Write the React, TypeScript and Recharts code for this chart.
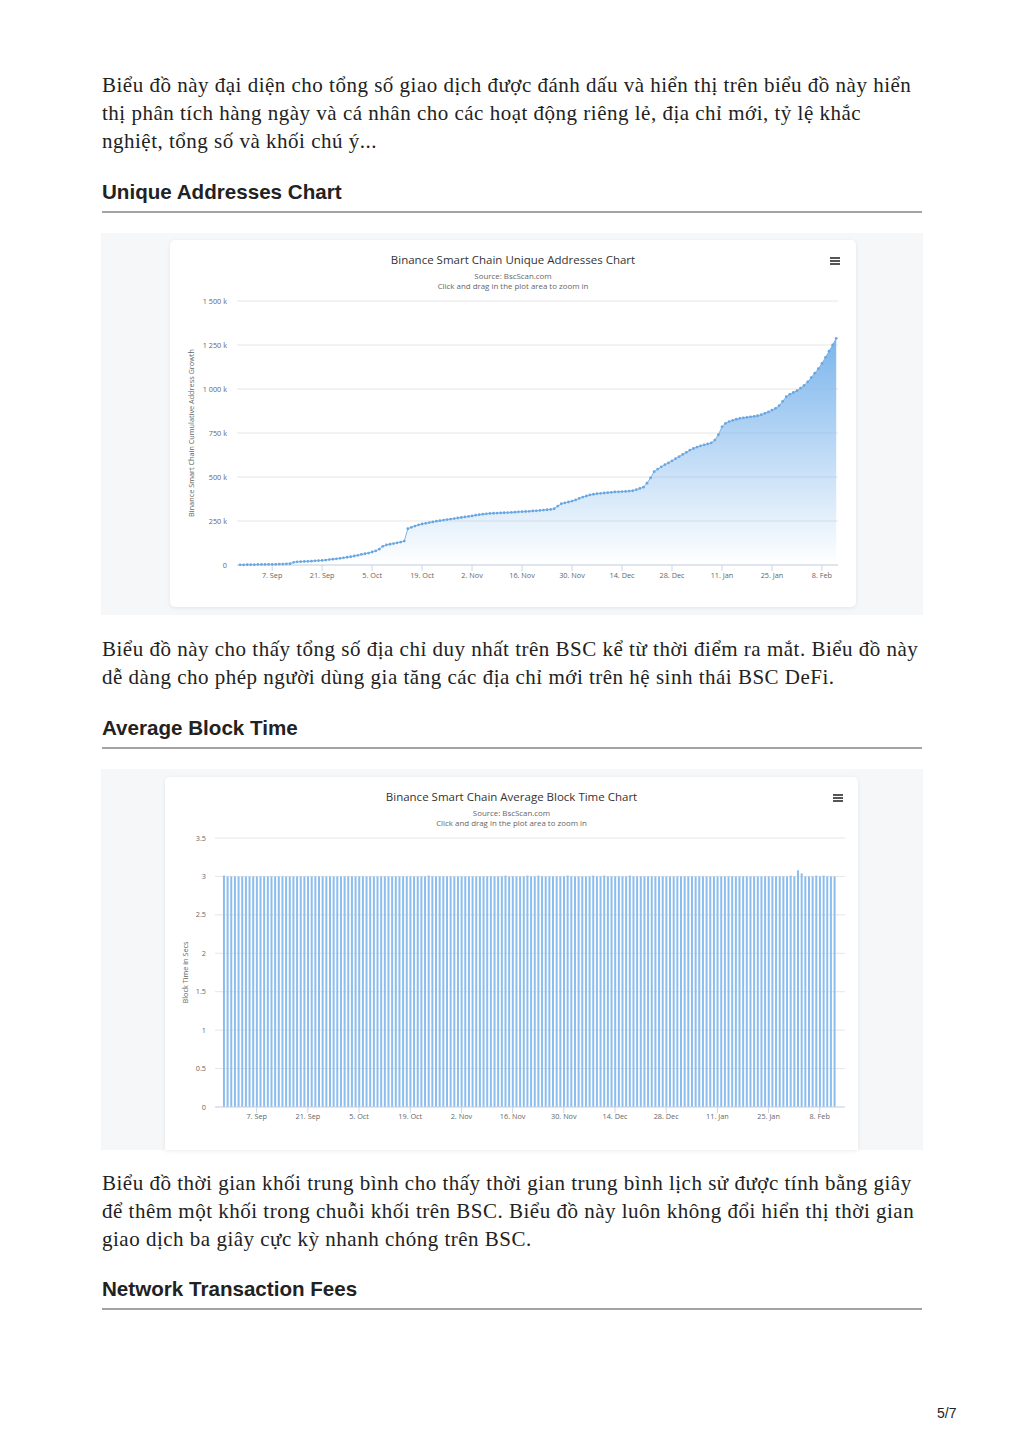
import React from 'react';
import { AreaChart, Area, BarChart, Bar, XAxis, YAxis, CartesianGrid } from 'recharts';

// day 0 = 29 Aug 2020, one value per day up to 12 Feb
const addressK = [
  1, 1, 2, 2, 2, 3, 3, 3, 4, 4, 4, 5, 5, 6, 7,
  15, 18, 19, 20, 21, 22, 24, 25, 26, 28, 31, 33, 35, 38, 41,
  44, 47, 51, 55, 60, 64, 68, 74, 80, 90, 106, 114, 118, 122, 126, 130, 136, 206,
  214, 221, 228, 233, 237, 241, 245, 249, 252, 255, 258, 261,
  264, 267, 270, 273, 276, 279, 283, 286, 289, 291, 293, 294, 295, 296, 297, 298,
  299, 300, 302, 303, 304, 305, 307, 308, 310, 312, 314, 316,
  320, 335, 348, 353, 358, 363, 370, 378, 386, 392, 398, 402,
  405, 407, 409, 411, 413, 415, 416, 417, 418, 420, 422, 428, 435, 442,
  465, 495, 530, 545, 558, 570, 580, 592, 604, 616, 628, 640, 653,
  662, 670, 677, 683, 688, 694, 710, 740, 785, 805, 815, 822, 828,
  833, 836, 839, 842, 845, 848, 854, 862, 870, 880, 890,
  905, 930, 956, 970, 980, 990, 1005, 1020, 1040, 1065, 1090, 1115, 1145, 1180, 1215, 1250, 1288,
];

const blockTimes = [
  3.01, 3, 3, 3, 3, 3, 3, 3, 3, 3, 3, 3,
  3, 3, 3, 3, 3, 3, 3, 3, 3, 3, 3, 3,
  3, 3, 3, 3, 3, 3, 3, 3, 3, 3, 3, 3,
  3, 3, 3, 3, 3, 3, 3, 3, 3, 3, 3, 3,
  3, 3, 3, 3, 3, 3, 3, 3, 3.01, 3, 3, 3,
  3, 3, 3, 3, 3, 3, 3, 3, 3, 3, 3, 3,
  3, 3, 3, 3, 3, 3.01, 3, 3, 3, 3, 3, 3.01,
  3, 3, 3.01, 3, 3, 3, 3, 3, 3, 3, 3.01, 3,
  3, 3, 3, 3, 3, 3.01, 3, 3, 3.01, 3, 3, 3,
  3, 3, 3, 3.01, 3, 3, 3, 3, 3, 3, 3, 3,
  3, 3, 3, 3, 3, 3, 3, 3, 3, 3, 3, 3,
  3, 3, 3, 3, 3, 3, 3, 3, 3, 3, 3, 3,
  3, 3, 3, 3, 3, 3, 3, 3, 3, 3, 3, 3.01,
  3, 3.08, 3.04, 3, 3, 3, 3.01, 3, 3.01, 3, 3, 3,
];

const tickDays = [9, 23, 37, 51, 65, 79, 93, 107, 121, 135, 149, 163];
const tickLabels = ['7. Sep', '21. Sep', '5. Oct', '19. Oct', '2. Nov', '16. Nov', '30. Nov', '14. Dec', '28. Dec', '11. Jan', '25. Jan', '8. Feb'];
const addressTicks = [0, 250, 500, 750, 1000, 1250, 1500];
const blockTicks = [0, 0.5, 1, 1.5, 2, 2.5, 3, 3.5];

const addressData = addressK.map((v, i) => ({ day: i, value: v }));
const blockData = blockTimes.map((v, i) => ({ day: i, value: v }));

const serif = '"Liberation Serif", "Times New Roman", serif';
const sans = '"Liberation Sans", Arial, sans-serif';
const chartFont = '"Open Sans", "DejaVu Sans", sans-serif';
const blue = '#7cb5ec';

const fmtK = (v: number) => {
  if (v === 0) return '0';
  const th = Math.floor(v / 1000);
  return th > 0 ? `${th} ${String(v % 1000).padStart(3, '0')} k` : `${v} k`;
};
const fmtDay = (d: number) => tickLabels[tickDays.indexOf(d)] ?? '';

const tickStyle = { fontSize: 7.3, fill: '#666', fontFamily: chartFont };

function Para({ top, lines }: { top: number; lines: string[] }) {
  return <div style={{ position: 'absolute', left: 102, top, fontFamily: serif, fontSize: 21, letterSpacing: 0.5, lineHeight: '28px', color: '#222', whiteSpace: 'nowrap' }}>
      {lines.map((l, i) => <div key={i}>{l}</div>)}
    </div>;
}

function Heading({ top, text }: { top: number; text: string }) {
  return <>
      <div style={{ position: 'absolute', left: 102, top, fontFamily: sans, fontWeight: 'bold', fontSize: 20.6, lineHeight: '24px', color: '#222' }}>{text}</div>
      <div style={{ position: 'absolute', left: 102, top: top + 31, width: 820, height: 2, background: '#a3a3a3' }} />
    </>;
}

function Menu({ left, top }: { left: number; top: number }) {
  return <div style={{ position: 'absolute', left, top }}>
      {[0, 3, 6].map(o => <div key={o} style={{ position: 'absolute', top: o, width: 10, height: 1.6, background: '#555' }} />)}
    </div>;
}

function CardTitle({ title, subTop }: { title: string; subTop: number }) {
  return <>
      <div style={{ position: 'absolute', top: 13, width: '100%', textAlign: 'center', fontFamily: chartFont, fontSize: 11.5, lineHeight: '14px', color: '#333' }}>{title}</div>
      <div style={{ position: 'absolute', top: subTop, width: '100%', textAlign: 'center', fontFamily: chartFont, fontSize: 7.9, lineHeight: '9.5px', color: '#666' }}>
        <div>Source: BscScan.com</div>
        <div>Click and drag in the plot area to zoom in</div>
      </div>
    </>;
}

export default function App() {
  return <div style={{ position: 'absolute', left: 0, top: 0, width: 1024, height: 1449, background: '#fff' }}>
      <Para top={71} lines={['Biểu đồ này đại diện cho tổng số giao dịch được đánh dấu và hiển thị trên biểu đồ này hiển', 'thị phân tích hàng ngày và cá nhân cho các hoạt động riêng lẻ, địa chỉ mới, tỷ lệ khắc', 'nghiệt, tổng số và khối chú ý...']} />
      <Heading top={180} text="Unique Addresses Chart" />

      <div style={{ position: 'absolute', left: 101, top: 233, width: 822, height: 382, background: '#f6f7f9' }} />
      <div style={{ position: 'absolute', left: 170, top: 240, width: 686, height: 367, background: '#fff', borderRadius: 5, boxShadow: '0 1px 4px rgba(0,0,0,0.08)' }}>
        <CardTitle title="Binance Smart Chain Unique Addresses Chart" subTop={32} />
        <Menu left={660} top={17} />
        <div style={{ position: 'absolute', left: 0, top: 0 }}>
          <AreaChart width={686} height={367} data={addressData} margin={{ top: 61, right: 18, bottom: 12, left: 0 }}>
            <defs>
              <linearGradient id="addrFill" x1="0" y1="0" x2="0" y2="1">
                <stop offset="0%" stopColor={blue} stopOpacity={1} />
                <stop offset="100%" stopColor={blue} stopOpacity={0} />
              </linearGradient>
            </defs>
            <CartesianGrid vertical={false} stroke="#e6e6e6" />
            <XAxis dataKey="day" type="number" domain={[-0.85, 167.5]} ticks={tickDays} tickFormatter={fmtDay} tick={tickStyle} axisLine={{ stroke: '#ccd6eb' }} tickLine={{ stroke: '#ccd6eb' }} tickSize={6} tickMargin={2} interval={0} height={30} />
            <YAxis width={67} domain={[0, 1500]} ticks={addressTicks} tickFormatter={fmtK} tick={tickStyle} axisLine={false} tickLine={false} tickMargin={4} label={{ value: 'Binance Smart Chain Cumulative Address Growth', angle: -90, position: 'insideLeft', offset: 21, style: { textAnchor: 'middle', fontSize: 7.3, fill: '#666', fontFamily: chartFont } }} />
            <Area type="linear" dataKey="value" stroke={blue} strokeWidth={1} fill="url(#addrFill)" fillOpacity={1} dot={{ r: 1.4, fill: '#6aa7e0', stroke: 'none' }} activeDot={false} isAnimationActive={false} />
          </AreaChart>
        </div>
      </div>

      <Para top={635} lines={['Biểu đồ này cho thấy tổng số địa chỉ duy nhất trên BSC kể từ thời điểm ra mắt. Biểu đồ này', 'dễ dàng cho phép người dùng gia tăng các địa chỉ mới trên hệ sinh thái BSC DeFi.']} />
      <Heading top={716} text="Average Block Time" />

      <div style={{ position: 'absolute', left: 101, top: 769, width: 822, height: 381, background: '#f6f7f9' }} />
      <div style={{ position: 'absolute', left: 165, top: 777, width: 693, height: 373, background: '#fff', borderRadius: '5px 5px 0 0', boxShadow: '0 1px 4px rgba(0,0,0,0.08)' }}>
        <CardTitle title="Binance Smart Chain Average Block Time Chart" subTop={32} />
        <Menu left={668} top={17} />
        <div style={{ position: 'absolute', left: 0, top: 0 }}>
          <BarChart width={693} height={373} data={blockData} margin={{ top: 61, right: 13, bottom: 13, left: 0 }}>
            <CartesianGrid vertical={false} stroke="#e6e6e6" />
            <XAxis dataKey="day" type="number" domain={[-2.4, 169.9]} ticks={tickDays} tickFormatter={fmtDay} tick={tickStyle} axisLine={{ stroke: '#ccd6eb' }} tickLine={{ stroke: '#ccd6eb' }} tickSize={6} tickMargin={1} interval={0} height={30} />
            <YAxis width={50} domain={[0, 3.5]} ticks={blockTicks} tick={tickStyle} axisLine={false} tickLine={false} tickMargin={3} label={{ value: 'Block Time in Secs', angle: -90, position: 'insideLeft', offset: 20, style: { textAnchor: 'middle', fontSize: 7.3, fill: '#666', fontFamily: chartFont } }} />
            <Bar dataKey="value" fill="#8bbdee" barSize={2} isAnimationActive={false} />
          </BarChart>
        </div>
      </div>

      <Para top={1169} lines={['Biểu đồ thời gian khối trung bình cho thấy thời gian trung bình lịch sử được tính bằng giây', 'để thêm một khối trong chuỗi khối trên BSC. Biểu đồ này luôn không đổi hiển thị thời gian', 'giao dịch ba giây cực kỳ nhanh chóng trên BSC.']} />
      <Heading top={1277} text="Network Transaction Fees" />

      <div style={{ position: 'absolute', left: 937, top: 1405, fontFamily: sans, fontSize: 14, lineHeight: '16px', color: '#222' }}>5/7</div>
    </div>;
}
